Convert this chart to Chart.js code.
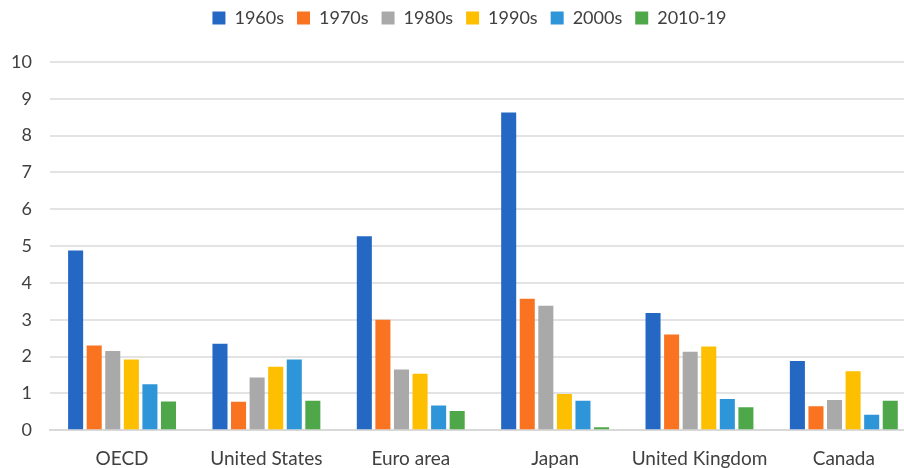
<!DOCTYPE html>
<html>
<head>
<meta charset="utf-8">
<script src="https://cdn.jsdelivr.net/npm/chart.js@4"></script>
<style>
  html, body { margin: 0; padding: 0; background: #fff; overflow: hidden; }
  /* canvas is a bit wider than the window: the source image is cropped on the right */
  #wrap { width: 940px; height: 468px; }
</style>
</head>
<body>
<div id="wrap"><canvas id="myChart"></canvas></div>
<script>
// data
const regions = ['OECD', 'United States', 'Euro area', 'Japan', 'United Kingdom', 'Canada'];
const decades = ['1960s', '1970s', '1980s', '1990s', '2000s', '2010-19'];
const v1960s = [4.88, 2.35, 5.27, 8.63, 3.18, 1.88];
const v1970s = [2.30, 0.77, 3.00, 3.57, 2.60, 0.65];
const v1980s = [2.15, 1.43, 1.65, 3.38, 2.13, 0.82];
const v1990s = [1.92, 1.72, 1.53, 0.98, 2.27, 1.60];
const v2000s = [1.25, 1.92, 0.67, 0.80, 0.85, 0.42];
const v2010s = [0.78, 0.80, 0.52, 0.08, 0.62, 0.80];
const yTicks = [0, 1, 2, 3, 4, 5, 6, 7, 8, 9, 10];

const colors = ['#2468c4', '#f97320', '#a9a9a9', '#fdbf00', '#2e95d8', '#4ea84a'];
const series = [v1960s, v1970s, v1980s, v1990s, v2000s, v2010s];

// extra room under the legend, lift it a little and move it right
const legendGap = {
    id: 'legendGap',
    beforeInit: function (chart) {
        const fit = chart.legend.fit;
        chart.legend.fit = function () {
            fit.bind(chart.legend)();
            this.height += 21;
        };
    },
    afterLayout: function (chart) {
        chart.legend.top -= 4;
        chart.legend.left += 15;
        chart.legend.right += 15;
    }
};

const ctx = document.getElementById('myChart').getContext('2d');
new Chart(ctx, {
    type: 'bar',
    data: {
        labels: regions,
        datasets: series.map(function (vals, i) {
            return {
                label: decades[i],
                data: vals,
                backgroundColor: colors[i],
                categoryPercentage: 0.772,
                barPercentage: 0.81
            };
        })
    },
    options: {
        responsive: true,
        maintainAspectRatio: false,
        animation: false,
        layout: { padding: { top: 0, right: 24, left: -7, bottom: -19 } },
        plugins: {
            legend: {
                position: 'top',
                labels: {
                    boxWidth: 13,
                    boxHeight: 13,
                    padding: 13,
                    color: '#404040',
                    font: { family: 'Lato', size: 18 }
                }
            },
            tooltip: { enabled: false }
        },
        scales: {
            x: {
                grid: { display: false, drawTicks: false },
                border: { color: '#d9d9d9', width: 2 },
                ticks: {
                    color: '#404040',
                    padding: 17,
                    font: { family: 'Lato', size: 19 }
                }
            },
            y: {
                min: 0,
                max: 10,
                afterBuildTicks: function (axis) {
                    axis.ticks = yTicks.map(function (v) { return { value: v }; });
                },
                grid: { color: '#e3e3e3', lineWidth: 2, drawTicks: false },
                border: { display: false },
                ticks: {
                    color: '#404040',
                    padding: 18,
                    font: { family: 'Lato', size: 18 }
                }
            }
        }
    },
    plugins: [legendGap]
});
</script>
</body>
</html>
